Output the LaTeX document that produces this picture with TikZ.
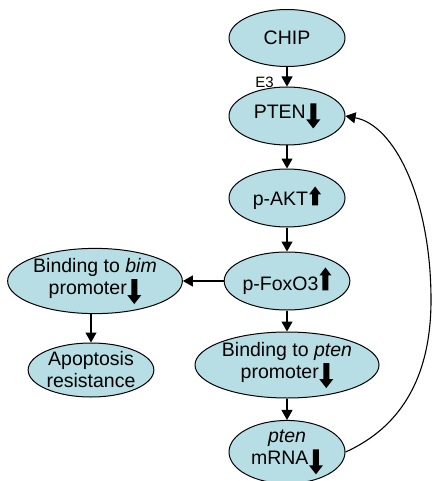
\documentclass[tikz,border=0pt]{standalone}
\usepackage{fontspec}
\setmainfont{Liberation Sans}
\usetikzlibrary{shapes.geometric,arrows.meta}
\definecolor{cellblue}{RGB}{183,222,228}
\newcommand{\mydown}{\hspace{0.5pt}\tikz[x=1pt,y=1pt,baseline=0pt]\fill[black,draw=none] (-3,15) -- (3,15) -- (3,-1) -- (7,-1) -- (0,-10) -- (-7,-1) -- (-3,-1) -- cycle;}
\newcommand{\myup}[1]{\hspace{1pt}\tikz[x=1pt,y=1pt,baseline=0pt]\fill[black,draw=none] (-3,0) -- (3,0) -- (3,#1-8) -- (6,#1-8) -- (0,#1) -- (-6,#1-8) -- (-3,#1-8) -- cycle;}
\tikzset{
  bub/.style={ellipse, draw, fill=cellblue, line width=1pt, inner sep=0pt, align=center,
    font=\fontsize{19.5}{22}\selectfont},
  arr/.style={line width=1.1pt, -{Triangle[length=10pt,width=11pt]}}
}
\begin{document}
\begin{tikzpicture}[x=1pt,y=-1pt]
\useasboundingbox (0,0) rectangle (432,481);
\node[bub, minimum width=116pt, minimum height=57pt] (chip) at (287,38) {CHIP};
\node[bub, minimum width=116pt, minimum height=58pt] (pten) at (287,116) {PTEN\mydown};
\node[bub, minimum width=116pt, minimum height=58pt] (pakt) at (287,198) {p-AKT\myup{19}};
\node[bub, minimum width=116pt, minimum height=58pt] (pfoxo) at (287,281) {p-FoxO3\myup{23}};
\node[bub, minimum width=164pt, minimum height=66pt] (bpten) at (287,365) {Binding to \textit{pten}\\promoter\mydown};
\node[bub, minimum width=116pt, minimum height=56pt] (mrna) at (287,452) {\textit{pten}\\mRNA\mydown};
\node[bub, minimum width=174pt, minimum height=58pt] (bbim) at (95,281) {Binding to \textit{bim}\\promoter\mydown};
\node[bub, minimum width=114pt, minimum height=54pt] (apop) at (91,370) {Apoptosis\\resistance};
\node[anchor=base east, inner sep=0pt, font=\fontsize{15}{15}\selectfont] (e3) at ([shift={(-13,1)}]pten.north) {E3};
\draw[arr] (chip) -- (pten);
\draw[arr] (pten) -- (pakt);
\draw[arr] (pakt) -- (pfoxo);
\draw[arr] (pfoxo) -- (bpten);
\draw[arr] (bpten) -- (mrna);
\draw[arr] (pfoxo.west) -- (bbim.east);
\draw[arr] (bbim.south -| apop.north) -- (apop.north);
\coordinate (loop) at (431,300);
\draw[arr] (mrna.east) .. controls (390,432) and (431,390) .. (loop) .. controls (431,200) and (395,125) .. (pten.east);
\end{tikzpicture}
\end{document}
